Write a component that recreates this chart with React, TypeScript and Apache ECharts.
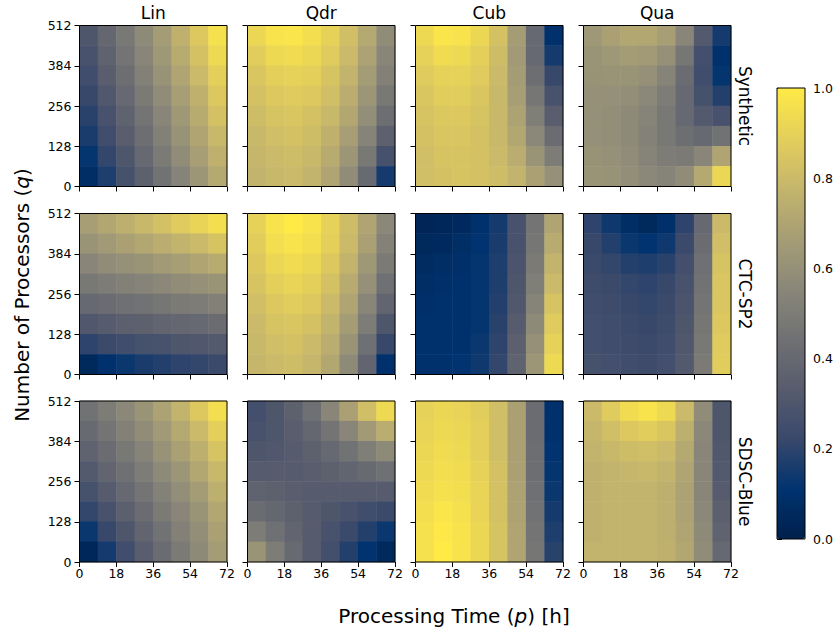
import React, { useEffect, useRef } from 'react';
import * as echarts from 'echarts';

const MODELS = ['Lin', 'Qdr', 'Cub', 'Qua'];
const TRACES = ['Synthetic', 'CTC-SP2', 'SDSC-Blue'];
// cell centres (hours / processors)
const P_CELLS = ['4.5', '13.5', '22.5', '31.5', '40.5', '49.5', '58.5', '67.5'];
const Q_CELLS = ['32', '96', '160', '224', '288', '352', '416', '480'];
const P_TICKS = [0, 18, 36, 54, 72];
const Q_TICKS = [0, 128, 256, 384, 512];
const CBAR_TICKS = [0, 0.2, 0.4, 0.6, 0.8, 1.0];
const CIVIDIS = ['#00204D', '#00336F', '#39486B', '#575C6D', '#707173', '#8A8779', '#A69D75', '#C4B56C', '#E4CF5B', '#FFEA46'];

// rows listed from top (q=480) to bottom (q=32); columns p=4.5 .. 67.5
const SYN_LIN = [
  [0.30, 0.39, 0.48, 0.57, 0.66, 0.76, 0.86, 0.96],
  [0.28, 0.37, 0.46, 0.55, 0.64, 0.73, 0.83, 0.93],
  [0.25, 0.34, 0.43, 0.52, 0.61, 0.70, 0.80, 0.89],
  [0.22, 0.31, 0.40, 0.49, 0.58, 0.67, 0.76, 0.86],
  [0.19, 0.28, 0.37, 0.46, 0.55, 0.64, 0.73, 0.83],
  [0.16, 0.25, 0.34, 0.43, 0.52, 0.61, 0.70, 0.79],
  [0.12, 0.21, 0.30, 0.40, 0.49, 0.58, 0.67, 0.76],
  [0.08, 0.17, 0.27, 0.36, 0.45, 0.54, 0.63, 0.72],
];
const SYN_QDR = [
  [0.92, 0.97, 0.98, 0.95, 0.90, 0.82, 0.72, 0.58],
  [0.88, 0.93, 0.94, 0.92, 0.87, 0.80, 0.69, 0.55],
  [0.85, 0.89, 0.90, 0.89, 0.84, 0.77, 0.66, 0.52],
  [0.83, 0.86, 0.87, 0.86, 0.82, 0.74, 0.63, 0.48],
  [0.81, 0.84, 0.85, 0.83, 0.79, 0.71, 0.59, 0.43],
  [0.79, 0.82, 0.83, 0.81, 0.76, 0.67, 0.54, 0.36],
  [0.78, 0.80, 0.81, 0.79, 0.73, 0.63, 0.48, 0.27],
  [0.77, 0.79, 0.80, 0.77, 0.70, 0.58, 0.41, 0.15],
];
const SYN_CUB = [
  [0.93, 0.98, 0.97, 0.92, 0.83, 0.66, 0.40, 0.10],
  [0.90, 0.94, 0.93, 0.89, 0.81, 0.65, 0.40, 0.15],
  [0.87, 0.90, 0.90, 0.87, 0.80, 0.66, 0.43, 0.22],
  [0.85, 0.88, 0.88, 0.85, 0.79, 0.67, 0.47, 0.28],
  [0.84, 0.86, 0.86, 0.84, 0.79, 0.69, 0.51, 0.34],
  [0.83, 0.85, 0.85, 0.83, 0.79, 0.71, 0.56, 0.42],
  [0.82, 0.84, 0.84, 0.83, 0.80, 0.74, 0.62, 0.50],
  [0.82, 0.83, 0.84, 0.83, 0.81, 0.77, 0.68, 0.60],
];
const SYN_QUA = [
  [0.64, 0.68, 0.71, 0.71, 0.67, 0.55, 0.32, 0.15],
  [0.62, 0.64, 0.66, 0.65, 0.60, 0.47, 0.26, 0.10],
  [0.61, 0.62, 0.62, 0.60, 0.54, 0.42, 0.25, 0.12],
  [0.60, 0.60, 0.59, 0.56, 0.50, 0.40, 0.27, 0.18],
  [0.60, 0.59, 0.57, 0.54, 0.48, 0.40, 0.32, 0.28],
  [0.60, 0.59, 0.57, 0.53, 0.48, 0.43, 0.40, 0.45],
  [0.61, 0.60, 0.58, 0.54, 0.50, 0.49, 0.55, 0.70],
  [0.62, 0.61, 0.59, 0.56, 0.54, 0.58, 0.72, 0.92],
];
const CTC_LIN = [
  [0.67, 0.71, 0.75, 0.79, 0.83, 0.87, 0.91, 0.95],
  [0.62, 0.65, 0.68, 0.71, 0.74, 0.77, 0.80, 0.84],
  [0.55, 0.58, 0.60, 0.62, 0.65, 0.67, 0.70, 0.73],
  [0.48, 0.50, 0.52, 0.54, 0.56, 0.58, 0.60, 0.62],
  [0.40, 0.42, 0.44, 0.45, 0.47, 0.49, 0.50, 0.52],
  [0.31, 0.33, 0.35, 0.36, 0.38, 0.39, 0.40, 0.42],
  [0.20, 0.23, 0.25, 0.27, 0.28, 0.30, 0.31, 0.32],
  [0.05, 0.10, 0.13, 0.16, 0.18, 0.20, 0.21, 0.23],
];
const CTC_QDR = [
  [0.90, 0.97, 1.00, 0.97, 0.90, 0.81, 0.70, 0.56],
  [0.88, 0.95, 0.97, 0.95, 0.89, 0.80, 0.68, 0.53],
  [0.86, 0.92, 0.94, 0.92, 0.86, 0.77, 0.64, 0.49],
  [0.84, 0.89, 0.91, 0.89, 0.83, 0.73, 0.60, 0.44],
  [0.82, 0.86, 0.88, 0.86, 0.80, 0.70, 0.55, 0.38],
  [0.80, 0.84, 0.85, 0.83, 0.77, 0.66, 0.50, 0.30],
  [0.79, 0.82, 0.83, 0.80, 0.74, 0.62, 0.44, 0.22],
  [0.78, 0.80, 0.81, 0.78, 0.71, 0.57, 0.38, 0.10],
];
const CTC_CUB = [
  [0.03, 0.04, 0.06, 0.10, 0.15, 0.28, 0.46, 0.70],
  [0.05, 0.06, 0.08, 0.11, 0.16, 0.28, 0.47, 0.73],
  [0.07, 0.08, 0.09, 0.12, 0.17, 0.29, 0.49, 0.77],
  [0.08, 0.09, 0.10, 0.12, 0.17, 0.30, 0.51, 0.80],
  [0.09, 0.10, 0.10, 0.12, 0.18, 0.31, 0.54, 0.84],
  [0.10, 0.10, 0.10, 0.12, 0.19, 0.33, 0.57, 0.87],
  [0.10, 0.10, 0.10, 0.13, 0.20, 0.35, 0.60, 0.90],
  [0.10, 0.10, 0.11, 0.14, 0.21, 0.37, 0.63, 0.93],
];
const CTC_QUA = [
  [0.20, 0.14, 0.08, 0.05, 0.09, 0.20, 0.40, 0.80],
  [0.22, 0.18, 0.13, 0.11, 0.14, 0.23, 0.42, 0.82],
  [0.23, 0.21, 0.18, 0.17, 0.19, 0.26, 0.44, 0.84],
  [0.24, 0.23, 0.21, 0.20, 0.22, 0.28, 0.45, 0.85],
  [0.25, 0.24, 0.22, 0.21, 0.23, 0.29, 0.46, 0.85],
  [0.26, 0.25, 0.23, 0.22, 0.24, 0.30, 0.47, 0.86],
  [0.26, 0.25, 0.24, 0.23, 0.25, 0.31, 0.48, 0.87],
  [0.27, 0.26, 0.25, 0.24, 0.26, 0.32, 0.49, 0.88],
];
const SDSC_LIN = [
  [0.45, 0.50, 0.56, 0.62, 0.69, 0.77, 0.86, 0.95],
  [0.41, 0.46, 0.52, 0.58, 0.65, 0.72, 0.80, 0.89],
  [0.37, 0.42, 0.48, 0.54, 0.61, 0.68, 0.75, 0.84],
  [0.32, 0.38, 0.44, 0.50, 0.57, 0.63, 0.71, 0.79],
  [0.27, 0.33, 0.40, 0.46, 0.53, 0.59, 0.66, 0.75],
  [0.21, 0.28, 0.35, 0.42, 0.49, 0.55, 0.62, 0.71],
  [0.13, 0.22, 0.30, 0.38, 0.45, 0.52, 0.59, 0.68],
  [0.04, 0.15, 0.25, 0.34, 0.42, 0.49, 0.57, 0.66],
];
const SDSC_QDR = [
  [0.26, 0.30, 0.36, 0.44, 0.55, 0.68, 0.82, 0.93],
  [0.28, 0.30, 0.34, 0.39, 0.46, 0.55, 0.65, 0.74],
  [0.30, 0.31, 0.33, 0.36, 0.40, 0.45, 0.51, 0.57],
  [0.33, 0.33, 0.33, 0.34, 0.36, 0.38, 0.41, 0.44],
  [0.37, 0.36, 0.34, 0.33, 0.33, 0.33, 0.33, 0.33],
  [0.42, 0.39, 0.36, 0.33, 0.30, 0.28, 0.25, 0.23],
  [0.50, 0.44, 0.38, 0.33, 0.28, 0.23, 0.18, 0.13],
  [0.62, 0.50, 0.41, 0.33, 0.26, 0.18, 0.11, 0.05],
];
const SDSC_CUB = [
  [0.90, 0.92, 0.91, 0.88, 0.82, 0.68, 0.42, 0.10],
  [0.91, 0.93, 0.92, 0.89, 0.82, 0.68, 0.42, 0.10],
  [0.92, 0.94, 0.93, 0.89, 0.82, 0.68, 0.43, 0.11],
  [0.93, 0.95, 0.94, 0.90, 0.83, 0.68, 0.43, 0.12],
  [0.94, 0.96, 0.95, 0.91, 0.83, 0.69, 0.44, 0.13],
  [0.95, 0.98, 0.96, 0.91, 0.83, 0.69, 0.45, 0.15],
  [0.96, 0.99, 0.97, 0.92, 0.84, 0.70, 0.46, 0.17],
  [0.96, 1.00, 0.97, 0.92, 0.84, 0.70, 0.47, 0.19],
];
const SDSC_QUA = [
  [0.80, 0.87, 0.94, 0.97, 0.93, 0.80, 0.58, 0.30],
  [0.78, 0.82, 0.86, 0.88, 0.85, 0.75, 0.56, 0.30],
  [0.77, 0.79, 0.81, 0.82, 0.80, 0.72, 0.55, 0.31],
  [0.76, 0.77, 0.78, 0.79, 0.77, 0.70, 0.55, 0.32],
  [0.76, 0.77, 0.77, 0.77, 0.75, 0.69, 0.55, 0.33],
  [0.76, 0.77, 0.77, 0.77, 0.75, 0.69, 0.56, 0.35],
  [0.76, 0.77, 0.77, 0.77, 0.75, 0.70, 0.57, 0.37],
  [0.77, 0.77, 0.77, 0.77, 0.76, 0.71, 0.58, 0.40],
];

const PANELS = [
  [SYN_LIN, SYN_QDR, SYN_CUB, SYN_QUA],
  [CTC_LIN, CTC_QDR, CTC_CUB, CTC_QUA],
  [SDSC_LIN, SDSC_QDR, SDSC_CUB, SDSC_QUA],
];

// layout
const COL_LEFT = [79.5, 247.5, 415.5, 583.5];
const PANEL_W = 147.5;
const ROW_TOP = [25.5, 213.5, 401];
const PANEL_H = 161;
const FONT = 'DejaVu Sans, Liberation Sans, sans-serif';
const TICK_FS = 12.5;

function buildOption() {
  const grid: any[] = [];
  const xAxis: any[] = [];
  const yAxis: any[] = [];
  const series: any[] = [];
  const graphic: any[] = [];
  const nRows = TRACES.length;
  const nCols = MODELS.length;

  for (let r = 0; r < nRows; r++) {
    for (let c = 0; c < nCols; c++) {
      const k = r * nCols + c;
      grid.push({
        left: COL_LEFT[c], top: ROW_TOP[r], width: PANEL_W, height: PANEL_H,
        show: true, borderColor: '#000', borderWidth: 1, backgroundColor: 'transparent', z: 10,
      });
      xAxis.push({ type: 'category', gridIndex: k, data: P_CELLS, show: false, position: 'bottom' });
      xAxis.push({
        type: 'value', gridIndex: k, position: 'bottom',
        min: P_TICKS[0], max: P_TICKS[P_TICKS.length - 1], interval: P_TICKS[1] - P_TICKS[0],
        axisLine: { show: false }, splitLine: { show: false },
        axisTick: { show: true, length: 5, lineStyle: { color: '#000', width: 1 } },
        axisLabel: { show: r === nRows - 1, color: '#000', fontSize: TICK_FS, fontFamily: FONT, margin: 5, hideOverlap: false, showMinLabel: true, showMaxLabel: true },
      });
      yAxis.push({ type: 'category', gridIndex: k, data: Q_CELLS, show: false, position: 'left' });
      yAxis.push({
        type: 'value', gridIndex: k, position: 'left',
        min: Q_TICKS[0], max: Q_TICKS[Q_TICKS.length - 1], interval: Q_TICKS[1] - Q_TICKS[0],
        axisLine: { show: false }, splitLine: { show: false },
        axisTick: { show: true, length: 5, lineStyle: { color: '#000', width: 1 } },
        axisLabel: { show: c === 0, color: '#000', fontSize: TICK_FS, fontFamily: FONT, margin: 8, showMinLabel: true, showMaxLabel: true },
      });
      const rows = PANELS[r][c];
      const data: any[] = [];
      rows.forEach((row, ri) => {
        row.forEach((v, pi) => {
          data.push([pi, Q_CELLS.length - 1 - ri, v]);
        });
      });
      series.push({
        type: 'heatmap', name: `${TRACES[r]} ${MODELS[c]}`,
        xAxisIndex: 2 * k, yAxisIndex: 2 * k, data,
        itemStyle: { borderWidth: 0 },
        emphasis: { disabled: true },
      });
    }
  }

  // colorbar axis
  const cbGrid = grid.length;
  grid.push({ left: 777, top: 88, width: 28, height: 451, show: true, borderColor: '#000', borderWidth: 1, backgroundColor: 'transparent', z: 10 });
  xAxis.push({ type: 'value', gridIndex: cbGrid, show: false, min: 0, max: 1 });
  yAxis.push({
    type: 'value', gridIndex: cbGrid, position: 'right',
    min: CBAR_TICKS[0], max: CBAR_TICKS[CBAR_TICKS.length - 1], interval: 0.2,
    axisLine: { show: false }, splitLine: { show: false },
    axisTick: { show: true, length: 5, lineStyle: { color: '#000', width: 1 } },
    axisLabel: { color: '#000', fontSize: TICK_FS, fontFamily: FONT, margin: 8, formatter: (v: number) => v.toFixed(1) },
  });

  // titles
  MODELS.forEach((m, c) => {
    graphic.push({
      type: 'text', x: COL_LEFT[c] + PANEL_W / 2, y: 12.5,
      style: { text: m, font: `17px ${FONT}`, fill: '#000', textAlign: 'center', textVerticalAlign: 'middle' },
    });
  });
  TRACES.forEach((t, r) => {
    graphic.push({
      type: 'text', x: 745, y: ROW_TOP[r] + PANEL_H / 2, rotation: -Math.PI / 2,
      style: { text: t, font: `17px ${FONT}`, fill: '#000', textAlign: 'center', textVerticalAlign: 'middle' },
    });
  });
  graphic.push({
    type: 'text', x: 22, y: 295, rotation: Math.PI / 2,
    style: {
      text: 'Number of Processors ({i|q})', font: `20px ${FONT}`, fill: '#000', textAlign: 'center', textVerticalAlign: 'middle',
      rich: { i: { fontStyle: 'italic', fontSize: 20, fontFamily: FONT, fill: '#000' } },
    },
  });
  graphic.push({
    type: 'text', x: 454, y: 616,
    style: {
      text: 'Processing Time ({i|p}) [h]', font: `20px ${FONT}`, fill: '#000', textAlign: 'center', textVerticalAlign: 'middle',
      rich: { i: { fontStyle: 'italic', fontSize: 20, fontFamily: FONT, fill: '#000' } },
    },
  });

  return {
    animation: false,
    backgroundColor: '#fff',
    grid, xAxis, yAxis, series, graphic,
    visualMap: {
      type: 'continuous', min: 0, max: 1, dimension: 2,
      seriesIndex: series.map((_, i) => i),
      inRange: { color: CIVIDIS },
      orient: 'vertical', left: 777, top: 88, itemWidth: 28, itemHeight: 451,
      padding: 0, calculable: false, hoverLink: false, showLabel: false, text: null,
    },
  };
}

export default function App() {
  const ref = useRef<HTMLDivElement>(null);
  useEffect(() => {
    if (!ref.current) return;
    const chart = echarts.init(ref.current, undefined, { renderer: 'svg' });
    chart.setOption(buildOption() as any);
    return () => chart.dispose();
  }, []);
  return <div ref={ref} style={{ width: 836, height: 633, position: 'absolute', left: 0, top: 0 }} />;
}
